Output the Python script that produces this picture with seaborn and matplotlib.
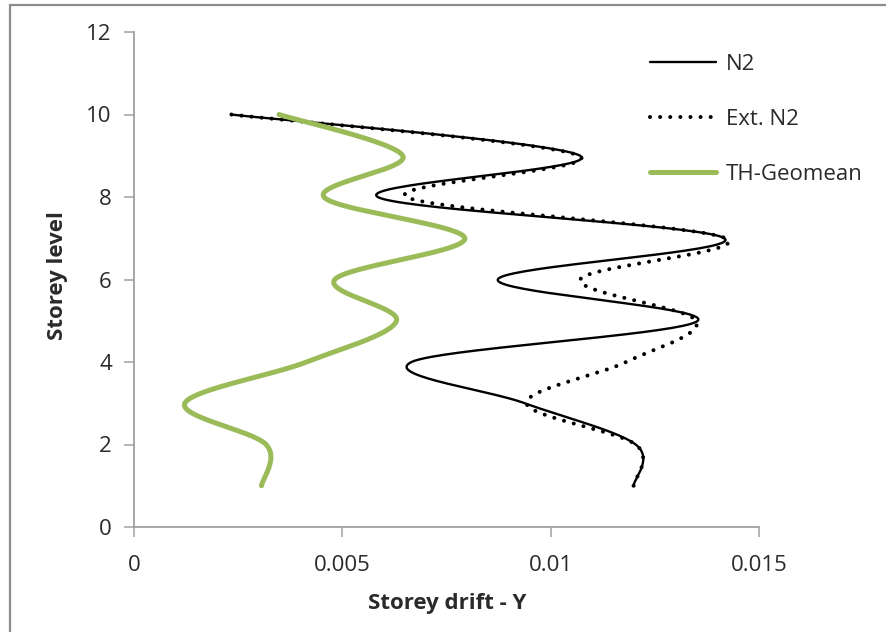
import numpy as np
import pandas as pd
import matplotlib
matplotlib.use("Agg")
import matplotlib.pyplot as plt
import seaborn as sns
from matplotlib.patches import Rectangle

# ---- data ----
storey = [1, 2, 3, 4, 5, 6, 7, 8, 9, 10]
n2 = [0.01199, 0.01204, 0.00938, 0.00666, 0.01353, 0.00873, 0.01417, 0.00585, 0.01071, 0.00233]
ext_n2 = [0.01199, 0.01204, 0.00942, 0.01181, 0.01349, 0.01071, 0.01420, 0.00654, 0.01068, 0.00233]
th_geomean = [0.00306, 0.00317, 0.00122, 0.00414, 0.00630, 0.00482, 0.00794, 0.00456, 0.00645, 0.00348]
series_names = ["N2", "Ext. N2", "TH-Geomean"]
x_ticks = [0, 0.005, 0.01, 0.015]
x_tick_labels = ["0", "0.005", "0.01", "0.015"]
y_ticks = [0, 2, 4, 6, 8, 10, 12]


def smooth(xs, ys, n=40):
    """Excel-style smoothed line (Catmull-Rom via cubic Bezier) through points."""
    P = np.column_stack([xs, ys]).astype(float)
    m = len(P)
    out = []
    for i in range(m - 1):
        p0 = P[max(i - 1, 0)]
        p1 = P[i]
        p2 = P[i + 1]
        p3 = P[min(i + 2, m - 1)]
        c1 = p1 + (p2 - p0) / 6.0
        c2 = p2 - (p3 - p1) / 6.0
        t = np.linspace(0, 1, n, endpoint=(i == m - 2))[:, None]
        seg = ((1 - t) ** 3) * p1 + 3 * ((1 - t) ** 2) * t * c1 + 3 * (1 - t) * t ** 2 * c2 + t ** 3 * p2
        out.append(seg)
    out = np.vstack(out)
    return out[:, 0], out[:, 1]


sns.set_theme(style="white")
plt.rcParams["font.family"] = ["Open Sans", "DejaVu Sans"]

W, H = 886, 632
FS = 16
fig = plt.figure(figsize=(W / 100, H / 100), dpi=100)
ax = fig.add_axes([134 / W, 1 - 527 / H, (759 - 134) / W, (527 - 32) / H])

styles = [
    dict(color="black", lw=1.7, linestyle="-"),
    dict(color="black", lw=2.9, linestyle=(0, (0.01, 2.5)), dash_capstyle="round"),
    dict(color="#9BBB59", lw=3.6, linestyle="-", solid_capstyle="round"),
]
for name, vals, st in zip(series_names, [n2, ext_n2, th_geomean], styles):
    sx, sy = smooth(vals, storey)
    df = pd.DataFrame({"drift": sx, "level": sy})
    sns.lineplot(data=df, x="drift", y="level", sort=False, estimator=None,
                 ax=ax, label=name, **st)

ax.set_xlim(0, 0.015)
ax.set_ylim(0, 12)
ax.set_xticks(x_ticks)
ax.set_xticklabels(x_tick_labels)
ax.set_yticks(y_ticks)
ax.set_yticklabels([str(v) for v in y_ticks])

for s in ["top", "right"]:
    ax.spines[s].set_visible(False)
for s in ["left", "bottom"]:
    ax.spines[s].set_color("#a0a0a0")
    ax.spines[s].set_linewidth(1.3)

txt_color = "#2a2a2a"
ax.tick_params(axis="both", which="major", direction="out", length=7, width=1.1,
               color="#a0a0a0", labelsize=FS, labelcolor=txt_color,
               left=True, bottom=True)
ax.tick_params(axis="x", pad=13.5)
ax.tick_params(axis="y", pad=9)

ax.set_xlabel("Storey drift - Y", fontsize=FS, fontweight="bold", color=txt_color)
ax.set_ylabel("Storey level", fontsize=FS, fontweight="bold", color=txt_color)
ax.xaxis.set_label_coords((447 - 134) / (759 - 134), -(603 - 527) / (527 - 32))
ax.yaxis.set_label_coords(-(134 - 57) / (759 - 134), (527 - 276) / (527 - 32))
ax.xaxis.label.set_va("center")
ax.yaxis.label.set_va("center")

leg = ax.legend(loc="upper left", bbox_to_anchor=(650 / W, 1 - 54 / H),
                bbox_transform=fig.transFigure, frameon=False,
                fontsize=FS, handlelength=2.95, handletextpad=0.45,
                labelspacing=1.53, borderpad=0, borderaxespad=0)
for t in leg.get_texts():
    t.set_color(txt_color)

fig.patches.append(Rectangle((10 / W, -0.1), 1.2, 1.1 - 5 / H, transform=fig.transFigure,
                             fill=False, edgecolor="#8c8c8c", lw=1.6, zorder=10))

fig.savefig("out.png", dpi=100)
